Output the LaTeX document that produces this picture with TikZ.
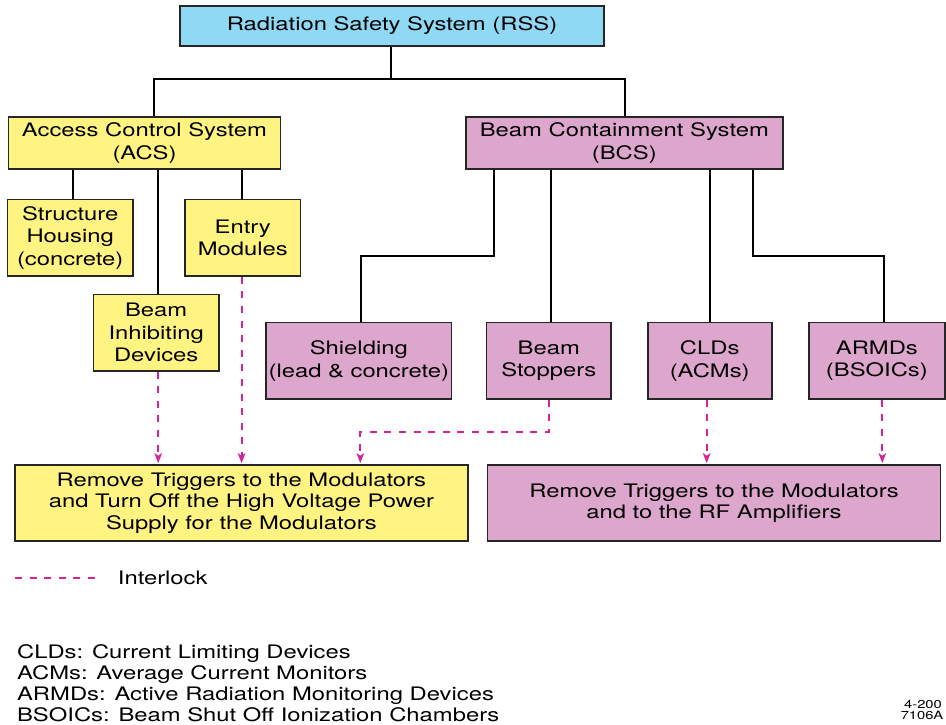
\documentclass[tikz,border=0pt]{standalone}
\usepackage{fontspec}
\setmainfont{TeX Gyre Heros}[FakeStretch=1.28]
\usetikzlibrary{arrows.meta}
\definecolor{rssblue}{HTML}{8FD9F5}
\definecolor{acsyellow}{HTML}{FFF482}
\definecolor{bcspink}{HTML}{DDA6CC}
\definecolor{ilk}{HTML}{D3249A}
\begin{document}
\begin{tikzpicture}[x=1pt,y=-1pt,
  box/.style={draw=black!85, line width=1.6pt, inner sep=0pt, align=center,
    font=\fontsize{18.6}{22.5}\selectfont},
  ybox/.style={box, fill=acsyellow},
  pbox/.style={box, fill=bcspink},
  conn/.style={draw=black, line width=2pt},
  ilkline/.style={draw=ilk, line width=1.8pt, dash pattern=on 7pt off 7.6pt},
  ilkarrow/.style={ilkline, -{Stealth[length=10pt,width=7.5pt,inset=2.5pt]}, shorten >=1pt},
  legend/.style={inner sep=0pt, anchor=west, text height=13.4pt, text depth=0pt,
    font=\fontsize{18.6}{21}\selectfont},
  tiny/.style={inner sep=0pt, anchor=east, text height=8.3pt, text depth=0pt,
    font=\fontsize{11.5}{11}\selectfont}]
\useasboundingbox (0,0) rectangle (946,725);

% top levels
\node[box, fill=rssblue, minimum width=424pt, minimum height=40pt] (rss) at (392,26) {Radiation Safety System (RSS)};
\node[ybox, minimum width=272pt, minimum height=52pt] (acs) at (144.5,143) {Access Control System\\(ACS)};
\node[pbox, minimum width=317pt, minimum height=52pt] (bcs) at (624.3,143) {Beam Containment System\\(BCS)};

% ACS children
\node[ybox, minimum width=125.7pt, minimum height=76.7pt] (struct) at (70.2,237.7) {Structure\\Housing\\(concrete)};
\node[ybox, minimum width=115.7pt, minimum height=76.7pt] (entry) at (242.8,237.7) {Entry\\Modules};
\node[ybox, minimum width=125.7pt, minimum height=76.4pt] (bid) at (156.2,332.5) {Beam\\Inhibiting\\Devices};

% BCS children
\node[pbox, minimum width=185.7pt, minimum height=76.3pt] (shield) at (358.8,360.8) {Shielding\\(lead \& concrete)};
\node[pbox, minimum width=124.3pt, minimum height=76.3pt] (stop) at (548.8,360.8) {Beam\\Stoppers};
\node[pbox, minimum width=124pt, minimum height=76.3pt] (clds) at (709.7,360.8) {CLDs\\(ACMs)};
\node[pbox, minimum width=136.3pt, minimum height=76.3pt] (armds) at (876.9,360.8) {ARMDs\\(BSOICs)};

% actions
\node[ybox, minimum width=452.6pt, minimum height=76pt, font=\fontsize{18.6}{21.5}\selectfont] (boty) at (241.4,503) {Remove Triggers to the Modulators\\and Turn Off the High Voltage Power\\Supply for the Modulators};
\node[pbox, minimum width=452.7pt, minimum height=76pt, font=\fontsize{18.6}{21.5}\selectfont] (botp) at (714,503) {Remove Triggers to the Modulators\\and to the RF Amplifiers};

% tree connectors
\coordinate (j0) at (391,79);
\coordinate (jA) at (154,79);
\coordinate (jB) at (625,79);
\draw[conn] (rss.south -| j0) -- (j0);
\draw[conn] (acs.north -| jA) -- (jA) -- (jB) -- (bcs.north -| jB);

\coordinate (a1) at (72.8,0);
\coordinate (a2) at (158.2,0);
\coordinate (a3) at (242,0);
\draw[conn] (acs.south -| a1) -- (struct.north -| a1);
\draw[conn] (acs.south -| a2) -- (bid.north -| a2);
\draw[conn] (acs.south -| a3) -- (entry.north -| a3);

\coordinate (b1) at (493.5,256);
\coordinate (s1) at (361,256);
\coordinate (b2) at (551,0);
\coordinate (b3) at (709.8,0);
\coordinate (b4) at (752.7,256);
\coordinate (r1) at (884.3,256);
\draw[conn] (bcs.south -| b1) -- (b1) -- (s1) -- (shield.north -| s1);
\draw[conn] (bcs.south -| b2) -- (stop.north -| b2);
\draw[conn] (bcs.south -| b3) -- (clds.north -| b3);
\draw[conn] (bcs.south -| b4) -- (b4) -- (r1) -- (armds.north -| r1);

% interlocks
\coordinate (d1) at (158.2,0);
\coordinate (d2) at (241.6,0);
\coordinate (k1) at (549.2,431.7);
\coordinate (k2) at (360.3,431.7);
\coordinate (c1) at (706.7,0);
\coordinate (c2) at (882.3,0);
\draw[ilkarrow] (bid.south -| d1) -- (boty.north -| d1);
\draw[ilkarrow] (entry.south -| d2) -- (boty.north -| d2);
\draw[ilkarrow] (stop.south -| k1) -- (k1) -- (k2) -- (boty.north -| k2);
\draw[ilkarrow] (clds.south -| c1) -- (botp.north -| c1);
\draw[ilkarrow] (armds.south -| c2) -- (botp.north -| c2);

% legend
\coordinate (lg1) at (15,577.7);
\coordinate (lg2) at (95,577.7);
\draw[ilkline] (lg1) -- (lg2);
\node[legend] (ilktext) at (117.7,577.5) {Interlock};

\node[legend] (leg1) at (16.9,651.7) {CLDs: Current Limiting Devices};
\node[legend] (leg2) at (16.9,672.8) {ACMs: Average Current Monitors};
\node[legend] (leg3) at (16.9,694) {ARMDs: Active Radiation Monitoring Devices};
\node[legend] (leg4) at (16.9,715) {BSOICs: Beam Shut Off Ionization Chambers};

\node[tiny] (id1) at (942,704) {4-200};
\node[tiny] (id2) at (943.5,715) {7106A};
\end{tikzpicture}
\end{document}
